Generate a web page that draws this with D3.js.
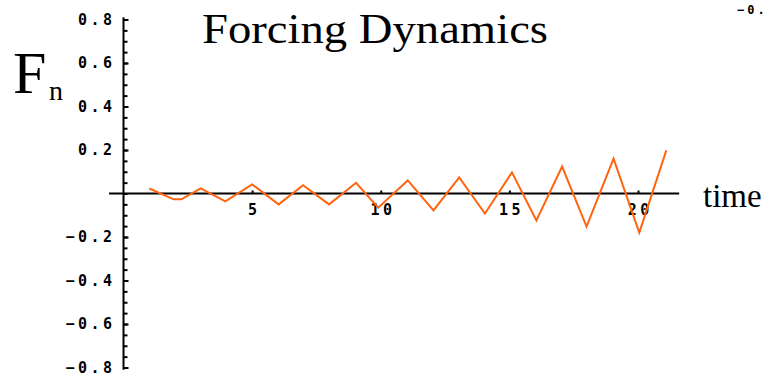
<!DOCTYPE html>
<html>
<head>
<meta charset="utf-8">
<script src="https://cdn.jsdelivr.net/npm/d3@7/dist/d3.min.js"></script>
<style>
  html, body { margin: 0; padding: 0; background: #fff; }
  svg { display: block; }
  .tick text { font-family: "DejaVu Sans Mono", "Liberation Mono", monospace; font-weight: bold; font-size: 15px; letter-spacing: 3.5px; fill: #000; }
</style>
</head>
<body>
<svg id="chart" width="772" height="380"></svg>
<script>
// Forcing signal F_n sampled over time
const timeSteps = [1.0, 1.95, 2.25, 3.0, 3.96, 5.0, 6.03, 6.98, 7.99, 9.04, 9.9, 11.05, 12.05, 13.05, 14.05, 15.1, 16.05, 17.05, 18.0, 19.05, 20.05, 21.1];
const forcing   = [0.023, -0.027, -0.027, 0.024, -0.036, 0.042, -0.05, 0.038, -0.05, 0.049, -0.065, 0.06, -0.078, 0.074, -0.092, 0.097, -0.124, 0.124, -0.152, 0.16, -0.18, 0.198];

const xTicks = [5, 10, 15, 20];
const yTicks = [-0.8, -0.6, -0.4, -0.2, 0.2, 0.4, 0.6, 0.8];
const yMinorTicks = d3.range(-16, 17).map(i => i * 0.05);

const svg = d3.select("#chart");

const x = d3.scaleLinear().domain([0, 20]).range([123.5, 638]);
const y = d3.scaleLinear().domain([-0.8, 0.8]).range([367.5, 19.5]);

// horizontal axis line through zero
svg.append("line")
  .attr("x1", x(-0.56)).attr("x2", x(21.6))
  .attr("y1", y(0)).attr("y2", y(0))
  .attr("stroke", "#000").attr("stroke-width", 2);

// vertical axis with minor ticks
svg.append("g")
  .attr("transform", `translate(${x(0)},0)`)
  .call(d3.axisLeft(y).tickValues(yMinorTicks).tickSize(-4).tickSizeOuter(0).tickFormat(""))
  .call(g => g.selectAll("line").attr("stroke", "#000").attr("stroke-width", 2))
  .call(g => g.select(".domain").attr("stroke", "#000").attr("stroke-width", 2)
    .attr("d", `M0,${y(0.81)}V${y(-0.81)}`));

// labelled major ticks on the vertical axis
svg.append("g")
  .attr("transform", `translate(${x(0)},0)`)
  .call(d3.axisLeft(y).tickValues(yTicks).tickSize(-5).tickSizeOuter(0).tickPadding(8)
    .tickFormat(d => d3.format(".1f")(d).replace("-", "\u2212")))
  .call(g => g.select(".domain").remove())
  .call(g => g.selectAll("line").attr("stroke", "#000").attr("stroke-width", 2));

// labelled ticks on the time axis
svg.append("g")
  .attr("transform", `translate(0,${y(0)})`)
  .call(d3.axisBottom(x).tickValues(xTicks).tickSize(-3).tickSizeOuter(0).tickPadding(11)
    .tickFormat(d3.format("d")))
  .call(g => g.select(".domain").remove())
  .call(g => g.selectAll("line").attr("stroke", "#000").attr("stroke-width", 2))
  .call(g => g.selectAll("text").attr("dx", "1.75px"));

// forcing trace
const line = d3.line().x((d, i) => x(timeSteps[i])).y(d => y(d));
svg.append("path")
  .datum(forcing)
  .attr("d", line)
  .attr("fill", "none")
  .attr("stroke", "#ff6410")
  .attr("stroke-width", 2);

// titles and axis names
svg.append("text")
  .attr("x", 202).attr("y", 43)
  .attr("font-family", "Liberation Serif, Times New Roman, serif")
  .attr("font-size", 43)
  .attr("textLength", 346).attr("lengthAdjust", "spacingAndGlyphs")
  .text("Forcing Dynamics");

const fLabel = svg.append("text")
  .attr("x", 13).attr("y", 93)
  .attr("font-family", "Liberation Serif, Times New Roman, serif")
  .attr("font-size", 60);
fLabel.append("tspan").text("F");
fLabel.append("tspan").attr("x", 49).attr("y", 100).attr("font-size", 28).text("n");

svg.append("text")
  .attr("x", 703).attr("y", 207)
  .attr("font-family", "Liberation Serif, Times New Roman, serif")
  .attr("font-size", 33)
  .text("time");

svg.append("text")
  .attr("x", 737).attr("y", 14)
  .attr("font-family", "DejaVu Sans Mono, Liberation Mono, monospace")
  .attr("font-weight", "bold")
  .attr("font-size", 12)
  .attr("letter-spacing", "3px")
  .text("\u22120.");
</script>
</body>
</html>
